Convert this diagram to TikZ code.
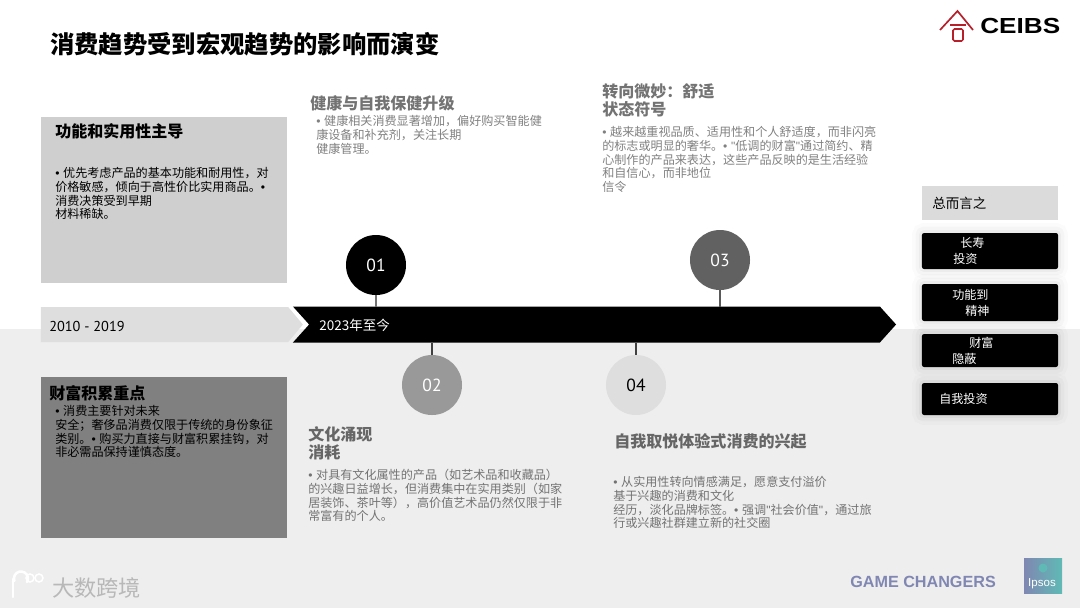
\documentclass[tikz,border=0pt]{standalone}
\usepackage{fontspec}
\setmainfont{Noto Sans CJK SC}
\newfontfamily\numfont{PT Sans}
\newfontfamily\logofont{Liberation Sans}
\usepackage{xcolor}
\usetikzlibrary{shapes.symbols, positioning, calc}

\definecolor{bandgray}{HTML}{EEEEEE}
\definecolor{chevgray}{HTML}{DEDEDE}
\definecolor{ceibsred}{HTML}{B5202A}
\definecolor{gamecolor}{HTML}{8087B2}
\definecolor{ipsosteal}{HTML}{5FBAB5}
\newcommand{\dotmark}{{\logofont •}\hspace{2.6pt}}
\newcommand{\qmark}{{\logofont "}}

\begin{document}
\begin{tikzpicture}[
    x=0.025cm, y=-0.025cm,
    heading/.style={anchor=north west, inner sep=0pt, align=left, font=\fontsize{11.4}{13}\selectfont\bfseries},
    bodytext/.style={anchor=north west, inner sep=0pt, align=left, font=\fontsize{8.6}{9.8}\selectfont},
    panel/.style={rectangle, minimum width=6.15cm, inner sep=0pt},
    badge/.style={circle, minimum size=1.5cm, inner sep=0pt, font=\numfont\fontsize{12.5}{15}\selectfont},
    stem/.style={line width=0.8pt},
    sumbox/.style={rectangle, rounded corners=1.5pt, fill=black, minimum width=3.4cm, inner sep=0pt,
        preaction={draw=black, line width=14pt, draw opacity=0.015},
        preaction={draw=black, line width=9pt, draw opacity=0.025},
        preaction={draw=black, line width=4pt, draw opacity=0.035}},
    sumtext/.style={anchor=west, inner sep=0pt, text=white, font=\fontsize{8.6}{11}\selectfont},
    yeartext/.style={anchor=west, inner sep=0pt, font=\numfont\fontsize{10.2}{12}\selectfont}
]
\useasboundingbox (0,0) rectangle (1080,608);

% Lower background band
\fill[bandgray] (0,329) rectangle (1080,608);

% Title
\node[anchor=west, inner sep=0pt, font=\fontsize{17.3}{19}\selectfont\bfseries] (slide_title) at (50,44) {消费趋势受到宏观趋势的影响而演变};

% Logo top right
\node[anchor=west, inner sep=0pt, xscale=1.2, font=\logofont\bfseries\fontsize{15.5}{17}\selectfont] (ceibs_text) at (980,26) {CEIBS};
\draw[ceibsred, line width=1.2pt] (940,30) -- (957.5,11) -- (973,30);
\draw[ceibsred, line width=1pt] (950,25) -- (966,25);
\draw[ceibsred, line width=1.1pt, rounded corners=1pt] (953,29) rectangle (963,41);

% Left panels
\node[panel, fill=black!19, minimum height=4.15cm] (func_panel) at (164,200) {};
\node[panel, fill=black!50, minimum height=4.025cm] (wealth_panel) at (164,457.5) {};

\node[heading] (func_head) at (55,123) {功能和实用性主导};
\node[bodytext] (func_body) at (55,167) {\dotmark 优先考虑产品的基本功能和耐用性，对\\价格敏感，倾向于高性价比实用商品。\dotmark\\消费决策受到早期\\材料稀缺。};
\node[heading] (wealth_head) at (49,385) {财富积累重点};
\node[bodytext] (wealth_body) at (55,405) {\dotmark 消费主要针对未来\\安全；奢侈品消费仅限于传统的身份象征\\类别。\dotmark 购买力直接与财富积累挂钩，对\\非必需品保持谨慎态度。};

% Timeline
\node[signal, signal to=east, signal pointer angle=100, fill=chevgray, minimum width=6.55cm, minimum height=0.875cm, inner sep=0pt, outer sep=0pt] (past_bar) at (164.5,324.5) {};
\node[signal, signal to=east, signal from=west, signal pointer angle=96, fill=black, minimum width=15.075cm, minimum height=0.9cm, inner sep=0pt, outer sep=0pt] (time_bar) at (594.5,324.5) {};
\node[yeartext] (past_label) at (49,326) {2010 - 2019};
\node[yeartext, text=white, font=\fontsize{9.6}{12}\selectfont] (now_label) at (319,325) {2023年至今};

% Badges
\node[badge, fill=black, text=white] (badge_01) at (376,265) {01};
\node[badge, fill=black!40, text=white] (badge_02) at (432,385) {02};
\node[badge, fill=black!62, text=white] (badge_03) at (720,260) {03};
\node[badge, fill=black!13, text=black] (badge_04) at (636,385) {04};

\draw[stem, black!55] (badge_01) -- (badge_01 |- time_bar.north);
\draw[stem, black!75] (badge_02) -- (badge_02 |- time_bar.south);
\draw[stem, black!65] (badge_03) -- (badge_03 |- time_bar.north);
\draw[stem, black!75] (badge_04) -- (badge_04 |- time_bar.south);

% Upper texts
\node[heading, text=black!55] (health_head) at (310,95) {健康与自我保健升级};
\node[bodytext, text=black!50] (health_body) at (316,115) {\dotmark 健康相关消费显著增加，偏好购买智能健\\康设备和补充剂，关注长期\\健康管理。};
\node[heading, text=black!55] (subtle_head) at (602,83) {转向微妙：舒适\\状态符号};
\node[bodytext, text=black!50] (subtle_body) at (602,126) {\dotmark 越来越重视品质、适用性和个人舒适度，而非闪亮\\的标志或明显的奢华。\dotmark \qmark 低调的财富\qmark 通过简约、精\\心制作的产品来表达，这些产品反映的是生活经验\\和自信心，而非地位\\信令};

% Lower texts
\node[heading, text=black!60] (culture_head) at (308,426) {文化涌现\\消耗};
\node[bodytext, text=black!55] (culture_body) at (308,469) {\dotmark 对具有文化属性的产品（如艺术品和收藏品）\\的兴趣日益增长，但消费集中在实用类别（如家\\居装饰、茶叶等），高价值艺术品仍然仅限于非\\常富有的个人。};
\node[heading, text=black!60] (self_head) at (614,433) {自我取悦体验式消费的兴起};
\node[bodytext, text=black!55] (self_body) at (613,476) {\dotmark 从实用性转向情感满足，愿意支付溢价\\基于兴趣的消费和文化\\经历，淡化品牌标签。\dotmark 强调\qmark 社会价值\qmark ，通过旅\\行或兴趣社群建立新的社交圈};

% Summary column
\node[rectangle, fill=black!14, minimum width=3.4cm, minimum height=0.85cm, inner sep=0pt] (sum_head_box) at (990,203) {};
\node[anchor=west, inner sep=0pt, font=\fontsize{9.6}{11}\selectfont] (sum_head) at (932,203) {总而言之};

\node[sumbox, minimum height=0.9cm] (sum_box1) at (990,251) {};
\node[sumbox, minimum height=0.925cm] (sum_box2) at (990,302.5) {};
\node[sumbox, minimum height=0.825cm] (sum_box3) at (990,350.5) {};
\node[sumbox, minimum height=0.8cm] (sum_box4) at (990,399) {};

\node[sumtext] (sum_a1) at (960,243) {长寿};
\node[sumtext] (sum_a2) at (953,259) {投资};
\node[sumtext] (sum_b1) at (952,295) {功能到};
\node[sumtext] (sum_b2) at (965,311) {精神};
\node[sumtext] (sum_c1) at (969,343) {财富};
\node[sumtext] (sum_c2) at (952,359) {隐蔽};
\node[sumtext] (sum_d1) at (939,399) {自我投资};

% Footer
\node[anchor=west, inner sep=0pt, text=black!28, font=\fontsize{15.8}{17}\selectfont] (mark_text) at (52,588) {大数跨境};
\draw[white, line width=1.8pt, line cap=round] (13,579) -- (13,597);
\draw[white, line width=1.8pt, line cap=round] (27,582) arc (30:-200:7);
\draw[white, line width=1.1pt] (30,578) circle (4);
\draw[white, line width=1.1pt] (39,578) circle (4);

\node[anchor=west, inner sep=0pt, text=gamecolor, font=\logofont\bfseries\fontsize{11.5}{15}\selectfont] (game_text) at (850,582) {GAME CHANGERS};
\node[rectangle, minimum width=0.95cm, minimum height=0.875cm, inner sep=0pt, left color=gamecolor, middle color=gamecolor!85!ipsosteal, right color=ipsosteal] (ipsos_box) at (1043,575.5) {};
\fill[ipsosteal] (1043,568) circle (4.5);
\node[inner sep=0pt, text=white, font=\logofont\fontsize{8.2}{9}\selectfont] (ipsos_text) at (1042,584) {Ipsos};

\end{tikzpicture}
\end{document}
